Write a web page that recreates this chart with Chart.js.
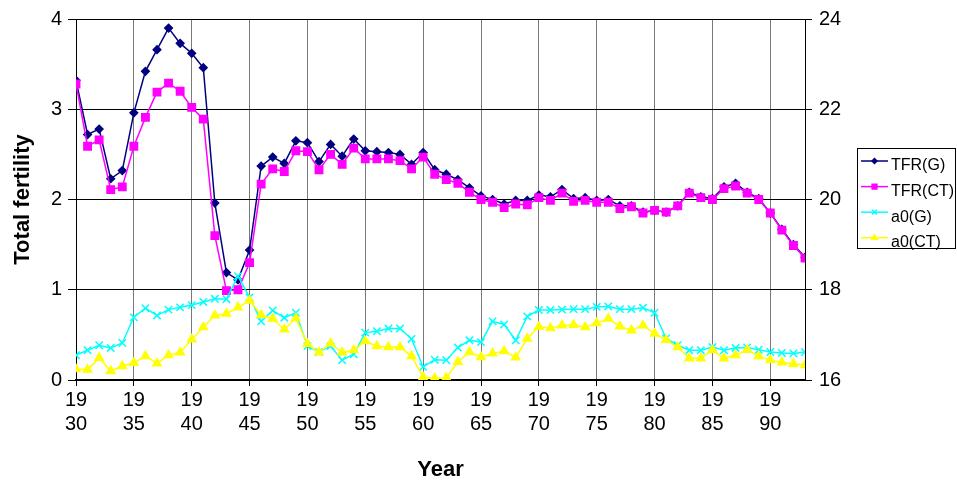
<!DOCTYPE html>
<html><head><meta charset="utf-8">
<script src="https://cdn.jsdelivr.net/npm/chart.js@4.4.1/dist/chart.umd.min.js"></script>
<style>html,body{margin:0;padding:0;background:#fff;}canvas{display:block;}</style>
</head><body>
<canvas id="c" width="957" height="480"></canvas>
<script>
const years = [1930,1931,1932,1933,1934,1935,1936,1937,1938,1939,
  1940,1941,1942,1943,1944,1945,1946,1947,1948,1949,
  1950,1951,1952,1953,1954,1955,1956,1957,1958,1959,
  1960,1961,1962,1963,1964,1965,1966,1967,1968,1969,
  1970,1971,1972,1973,1974,1975,1976,1977,1978,1979,
  1980,1981,1982,1983,1984,1985,1986,1987,1988,1989,
  1990,1991,1992,1993];
const tfrG = [3.32,2.72,2.78,2.23,2.32,2.96,3.42,3.66,3.90,3.73,
  3.62,3.46,1.96,1.19,1.11,1.44,2.37,2.47,2.40,2.65,
  2.63,2.42,2.61,2.48,2.67,2.54,2.53,2.52,2.50,2.39,
  2.52,2.33,2.28,2.22,2.13,2.04,2.00,1.95,1.99,1.99,
  2.05,2.03,2.11,2.01,2.02,1.99,2.00,1.93,1.93,1.86,
  1.88,1.86,1.93,2.08,2.03,2.01,2.14,2.18,2.08,2.01,
  1.85,1.67,1.50,1.36];
const tfrCT = [3.28,2.59,2.66,2.11,2.14,2.59,2.91,3.19,3.29,3.20,
  3.02,2.89,1.60,0.99,1.00,1.30,2.17,2.34,2.31,2.54,
  2.53,2.33,2.50,2.39,2.57,2.45,2.45,2.45,2.43,2.34,
  2.47,2.28,2.22,2.18,2.08,2.00,1.97,1.91,1.95,1.94,
  2.02,1.99,2.07,1.98,1.99,1.97,1.97,1.90,1.92,1.85,
  1.88,1.86,1.93,2.07,2.02,2.00,2.12,2.15,2.07,2.00,
  1.85,1.66,1.49,1.35];
const a0G = [16.55,16.66,16.77,16.71,16.82,17.39,17.59,17.43,17.56,17.61,
  17.66,17.73,17.80,17.79,18.30,17.83,17.30,17.54,17.38,17.49,
  16.75,16.62,16.75,16.44,16.57,17.05,17.08,17.14,17.14,16.91,
  16.29,16.45,16.44,16.72,16.88,16.84,17.30,17.23,16.88,17.41,
  17.55,17.55,17.56,17.57,17.57,17.62,17.63,17.57,17.57,17.60,
  17.49,16.92,16.77,16.66,16.66,16.73,16.66,16.71,16.72,16.67,
  16.62,16.60,16.59,16.62];
const a0CT = [16.24,16.23,16.49,16.20,16.31,16.38,16.53,16.37,16.55,16.61,
  16.90,17.17,17.43,17.47,17.61,17.76,17.44,17.36,17.12,17.37,
  16.80,16.61,16.81,16.61,16.66,16.86,16.75,16.73,16.73,16.53,
  16.06,16.04,16.05,16.40,16.62,16.51,16.59,16.64,16.50,16.92,
  17.18,17.15,17.21,17.22,17.17,17.26,17.36,17.19,17.10,17.21,
  17.03,16.89,16.73,16.48,16.48,16.66,16.48,16.55,16.67,16.53,
  16.44,16.39,16.36,16.33];
const seriesNames = ['TFR(G)','TFR(CT)','a0(G)','a0(CT)'];
const xTickYears = [1930,1935,1940,1945,1950,1955,1960,1965,1970,1975,1980,1985,1990];
const xTickLabels = [['19','30'],['19','35'],['19','40'],['19','45'],['19','50'],['19','55'],['19','60'],
  ['19','65'],['19','70'],['19','75'],['19','80'],['19','85'],['19','90']];
const leftTicks = [0,1,2,3,4];
const rightTicks = [16,18,20,22,24];
const yTitle = 'Total fertility';
const xTitle = 'Year';

const FONT = "'Liberation Sans', Arial, sans-serif";
Chart.defaults.font.family = FONT;
Chart.defaults.color = '#000';

function pts(vals){ return years.map((y,i)=>({x:y,y:vals[i]})); }

const legendPlugin = {
  id:'boxLegend',
  afterDraw(chart){
    const ctx = chart.ctx;
    const bx=857, by=148, bw=99, bh=100;
    ctx.save();
    ctx.fillStyle='#fff'; ctx.fillRect(bx,by,bw,bh);
    ctx.strokeStyle='#000'; ctx.lineWidth=1; ctx.strokeRect(bx+0.5,by+0.5,bw-1,bh);
    chart.data.datasets.forEach((ds,i)=>{
      const ly = 161 + i*25.6;
      ctx.strokeStyle = ds.borderColor; ctx.lineWidth = ds.borderWidth;
      ctx.beginPath(); ctx.moveTo(861,ly); ctx.lineTo(888,ly); ctx.stroke();
      ctx.fillStyle = ds.backgroundColor; ctx.strokeStyle = ds.borderColor;
      Chart.helpers.drawPoint(ctx, {pointStyle: ds.pointStyle, radius: ds.pointRadius*0.65, borderWidth: ds.borderWidth, rotation:0}, 874.5, ly);
      ctx.fillStyle='#000'; ctx.font = '16px ' + FONT; ctx.textBaseline='middle'; ctx.textAlign='left';
      ctx.fillText(seriesNames[i], 891, ly + 5);
    });
    ctx.restore();
  }
};

new Chart(document.getElementById('c'), {
  type:'line',
  data:{ datasets:[
    {label:seriesNames[0], data:pts(tfrG), borderColor:'#000080', backgroundColor:'#000080', pointStyle:'rectRot', pointRadius:3.8, borderWidth:1.5, yAxisID:'y', order:4},
    {label:seriesNames[1], data:pts(tfrCT), borderColor:'#ff00ff', backgroundColor:'#ff00ff', pointStyle:'rect', pointRadius:5.2, borderWidth:1.5, yAxisID:'y', order:3},
    {label:seriesNames[2], data:pts(a0G), borderColor:'#00ffff', backgroundColor:'#00ffff', pointStyle:'crossRot', pointRadius:5.2, borderWidth:1.5, yAxisID:'y1', order:2},
    {label:seriesNames[3], data:pts(a0CT), borderColor:'#ffff00', backgroundColor:'#ffff00', pointStyle:'triangle', pointRadius:4.8, borderWidth:1.5, yAxisID:'y1', order:1}
  ]},
  options:{
    responsive:false, animation:false, devicePixelRatio:1,
    layout:{padding:{top:16,right:102,left:0,bottom:0}},
    plugins:{legend:{display:false}, tooltip:{enabled:false}},
    elements:{line:{tension:0}},
    scales:{
      x:{type:'linear', position:'bottom', min:1930, max:1993,
        afterBuildTicks:s=>{ s.ticks = xTickYears.map(v=>({value:v})); },
        afterFit:s=>{ s.height = 100; },
        grid:{color:'#7a7a7a', tickColor:'#000', tickLength:6, lineWidth:1},
        border:{color:'#000', width:1.5},
        ticks:{font:{size:20}, color:'#000', padding:2, maxRotation:0, autoSkip:false,
          callback:(v)=>{ const k = xTickYears.indexOf(v); return k>=0 ? xTickLabels[k] : ''; }},
        title:{display:true, text:xTitle, font:{size:22, weight:'bold', lineHeight:1}, padding:{top:0,bottom:-1}}
      },
      y:{position:'left', min:0, max:4,
        afterBuildTicks:s=>{ s.ticks = leftTicks.map(v=>({value:v})); },
        afterFit:s=>{ s.width = 76; },
        grid:{color:'#000', tickColor:'#000', tickLength:8, lineWidth:1},
        border:{color:'#000', width:1},
        ticks:{font:{size:20}, color:'#000', padding:6},
        title:{display:true, text:yTitle, font:{size:22, weight:'bold', lineHeight:1}, padding:{top:12,bottom:0}}
      },
      y1:{position:'right', min:16, max:24,
        afterBuildTicks:s=>{ s.ticks = rightTicks.map(v=>({value:v})); },
        afterFit:s=>{ s.width = 50; },
        grid:{drawOnChartArea:false, tickColor:'#000', tickLength:7, lineWidth:1},
        border:{color:'#000', width:1},
        ticks:{font:{size:20}, color:'#000', padding:7}
      }
    }
  },
  plugins:[legendPlugin]
});
</script>
</body></html>
